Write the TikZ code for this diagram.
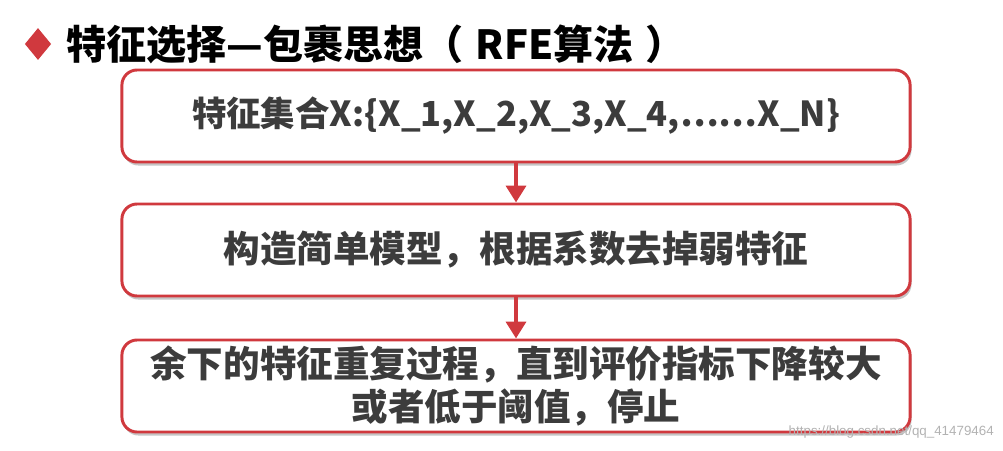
\documentclass[tikz,border=0pt]{standalone}
\usepackage{fontspec}
\setmainfont{Noto Sans CJK SC}
\newfontfamily\markfont{Liberation Sans}
\usetikzlibrary{shapes.geometric,shadows,arrows.meta}
\definecolor{rfered}{RGB}{208,57,62}
\definecolor{boxtext}{RGB}{60,60,60}

\begin{document}
\begin{tikzpicture}[
    x=0.025cm, y=0.025cm,
    stepbox/.style={draw=rfered, line width=2.1pt, rounded corners=0.38cm,
        fill=white, minimum width=19.7cm, minimum height=2.3cm,
        align=center, text=boxtext,
        font=\fontsize{26}{31}\selectfont\bfseries,
        drop shadow={shadow xshift=1pt, shadow yshift=-2.5pt, fill=black!45, opacity=0.5}},
    flowarrow/.style={draw=rfered, line width=3.5pt,
        -{Triangle[width=14pt, length=12pt]}}
]
\useasboundingbox (0,0) rectangle (1003,450);

% Title
\node[diamond, fill=rfered, minimum width=0.66cm, minimum height=0.8cm, inner sep=0pt] (mark) at (38,406) {};
\node[anchor=west, inner sep=0pt, font=\fontsize{28.5}{32}\selectfont\bfseries] (title) at (66,406) {特征选择—包裹思想（\hspace{0.3em}RFE算法\hspace{0.3em}）};

% Steps
\node[stepbox] (s1) at (516,334) {\fontsize{24.5}{30}\selectfont 特征集合X:\{X\_1,X\_2,X\_3,X\_4,……X\_N\}};
\node[stepbox] (s2) at (516,200) {构造简单模型，根据系数去掉弱特征};
\node[stepbox] (s3) at (516,64) {余下的特征重复过程，直到评价指标下降较大\\或者低于阈值，停止};

\draw[flowarrow] (s1.south) -- (s2.north);
\draw[flowarrow] (s2.south) -- (s3.north);

% Watermark
\node[anchor=east, inner sep=0pt, text=black!30, font=\markfont\fontsize{9.5}{11}\selectfont] (wm) at (994,18) {https://blog.csdn.net/qq\_41479464};
\end{tikzpicture}
\end{document}
